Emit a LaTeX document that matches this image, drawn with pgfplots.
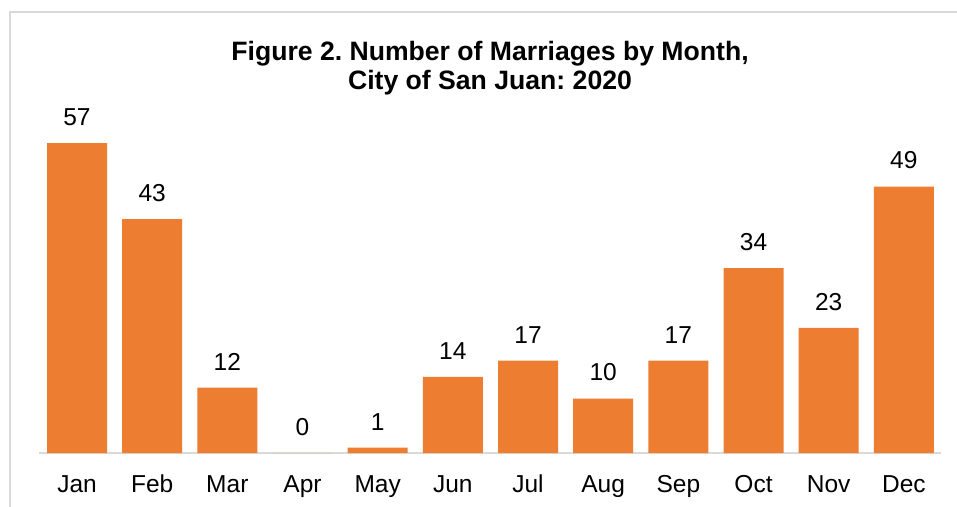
\documentclass[border=0pt]{standalone}
\usepackage{pgfplots}
\pgfplotsset{compat=1.18}
\usepackage{fontspec}
\setmainfont{Liberation Sans}
\definecolor{barorange}{HTML}{ED7D31}
\definecolor{lightgray}{HTML}{D9D9D9}
\begin{document}
\frenchspacing
\begin{tikzpicture}[x=1pt,y=1pt]
\useasboundingbox (0,0) rectangle (957,506);
\draw[lightgray, line width=2pt] (10,-5) -- (10,494) -- (965,494);
\node[align=center, font=\fontsize{26.6}{29}\selectfont\bfseries] at (490,438) {Figure 2. Number of Marriages by Month,\\City of San Juan: 2020};
\begin{axis}[
  at={(77pt,53pt)}, anchor=origin,
  scale only axis, width=902pt, height=310pt,
  ymin=0, ymax=57, xmin=-0.5, xmax=11.5,
  axis x line=bottom, axis y line=none,
  x axis line style={draw=lightgray, line width=2pt, -},
  major tick length=0pt,
  xtick=data,
  xticklabels={Jan,Feb,Mar,Apr,May,Jun,Jul,Aug,Sep,Oct,Nov,Dec},
  xticklabel style={font=\fontsize{24.5}{28}\selectfont, anchor=base, yshift=-39pt},
  ytick=\empty,
  clip=false,
  /pgf/number format/assume math mode=true,
  ybar, bar width=60pt,
  nodes near coords,
  every node near coord/.append style={font=\fontsize{24.5}{28}\selectfont, yshift=14pt},
]
\addplot[fill=barorange, draw=none] coordinates {
(0,57) (1,43) (2,12) (3,0) (4,1) (5,14) (6,17) (7,10) (8,17) (9,34) (10,23) (11,49)
};
\end{axis}
\end{tikzpicture}
\end{document}
